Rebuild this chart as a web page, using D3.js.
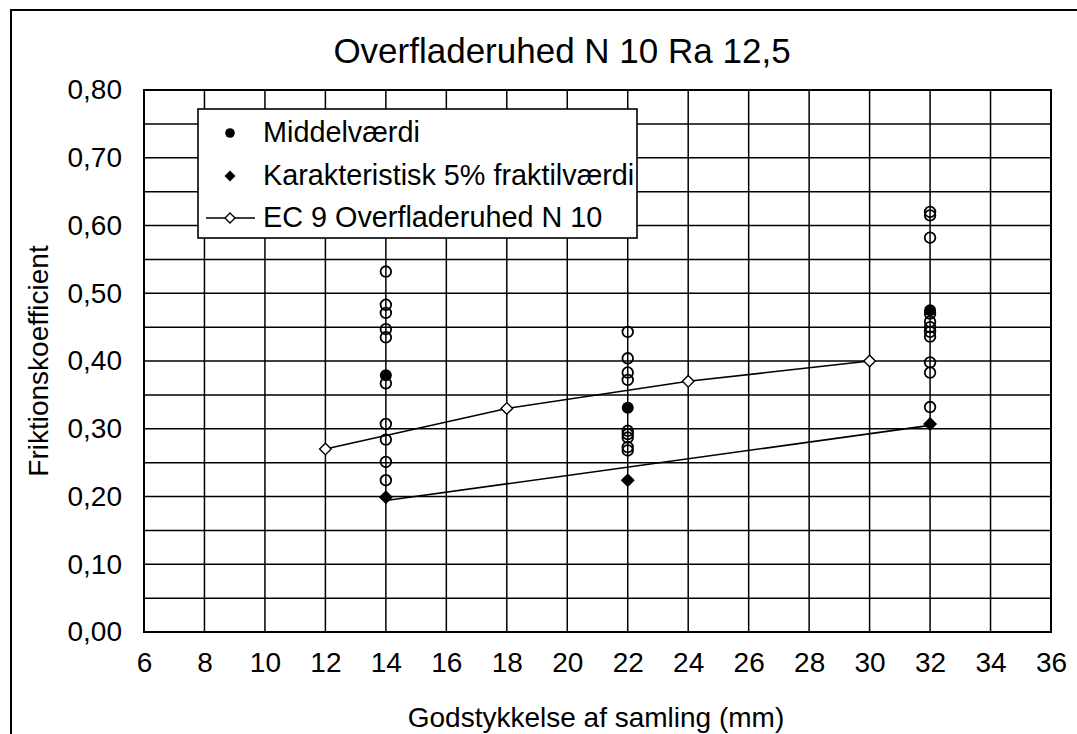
<!DOCTYPE html>
<html>
<head>
<meta charset="utf-8">
<script src="https://cdn.jsdelivr.net/npm/d3@7"></script>
<style>
  html, body { margin: 0; padding: 0; background: #fff; }
  svg { display: block; font-family: "Liberation Sans", Arial, sans-serif; }
</style>
</head>
<body>
<svg id="chart" width="1077" height="734"></svg>
<script>
// Wall thickness of the joint (mm) where the friction tests were made
const groups = [14, 22, 32];
// Individual measured friction coefficients per thickness
const measured14 = [0.532, 0.483, 0.471, 0.447, 0.435, 0.367, 0.307, 0.284, 0.251, 0.224];
const measured22 = [0.443, 0.404, 0.383, 0.372, 0.297, 0.292, 0.287, 0.273, 0.268];
const measured32 = [0.620, 0.615, 0.582, 0.470, 0.458, 0.450, 0.443, 0.436, 0.398, 0.383, 0.332];
// Mean values and characteristic 5% fractile values
const meanValues = [0.379, 0.331, 0.475];
const charValues = [0.199, 0.224, 0.307];
// EC 9 design values for surface roughness N 10
const ecThickness = [12, 18, 24, 30];
const ecValues = [0.27, 0.33, 0.37, 0.40];
// Line through the characteristic values
const lowerThickness = [14, 32];
const lowerValues = [0.194, 0.305];
// Axis ticks
const xTicks = [6, 8, 10, 12, 14, 16, 18, 20, 22, 24, 26, 28, 30, 32, 34, 36];
const yTicks = [0, 0.1, 0.2, 0.3, 0.4, 0.5, 0.6, 0.7, 0.8];
const yGrid = [0.05, 0.1, 0.15, 0.2, 0.25, 0.3, 0.35, 0.4, 0.45, 0.5, 0.55, 0.6, 0.65, 0.7, 0.75];

const svg = d3.select("#chart");
const x = d3.scaleLinear().domain([6, 36]).range([144, 1051]);
const y = d3.scaleLinear().domain([0, 0.8]).range([632, 90]);
const fmt = v => d3.format(".2f")(v).replace(".", ",");
const FONT = "Liberation Sans, Arial, sans-serif";

// Outer frame
svg.append("rect").attr("x", 11).attr("y", 10).attr("width", 1200).attr("height", 900)
  .attr("fill", "none").attr("stroke", "#000").attr("stroke-width", 2);

// Title
svg.append("text").attr("x", 562).attr("y", 63).attr("text-anchor", "middle")
  .attr("font-size", 35).text("Overfladeruhed N 10 Ra 12,5");

// Grid
const grid = svg.append("g").attr("stroke", "#000").attr("stroke-width", 1.5);
grid.selectAll("line.h").data(yGrid).join("line")
  .attr("x1", x(6)).attr("x2", x(36)).attr("y1", d => y(d)).attr("y2", d => y(d));
grid.selectAll("line.v").data(xTicks.slice(1, -1)).join("line")
  .attr("y1", y(0)).attr("y2", y(0.8)).attr("x1", d => x(d)).attr("x2", d => x(d));
svg.append("rect").attr("x", x(6)).attr("y", y(0.8)).attr("width", x(36) - x(6)).attr("height", y(0) - y(0.8))
  .attr("fill", "none").attr("stroke", "#000").attr("stroke-width", 2);

// Tick labels through d3 axes (tick lines hidden)
const yAxis = svg.append("g").attr("transform", `translate(${x(6)},0)`)
  .call(d3.axisLeft(y).tickValues(yTicks).tickFormat(fmt).tickSize(0).tickPadding(22));
const xAxis = svg.append("g").attr("transform", `translate(0,${y(0)})`)
  .call(d3.axisBottom(x).tickValues(xTicks).tickSize(0).tickPadding(20));
[yAxis, xAxis].forEach(a => {
  a.select(".domain").remove();
  a.selectAll("text").attr("font-size", 28).attr("font-family", FONT).attr("fill", "#000");
});

svg.append("text").attr("x", 596).attr("y", 727).attr("text-anchor", "middle")
  .attr("font-size", 28).text("Godstykkelse af samling (mm)");
svg.append("text").attr("transform", "translate(48,361) rotate(-90)").attr("text-anchor", "middle")
  .attr("font-size", 28).text("Friktionskoefficient");

// Lines
const line = d3.line().x(d => x(d[0])).y(d => y(d[1]));
const ecPts = ecThickness.map((t, i) => [t, ecValues[i]]);
const lowPts = lowerThickness.map((t, i) => [t, lowerValues[i]]);
svg.append("path").attr("d", line(ecPts)).attr("fill", "none").attr("stroke", "#000").attr("stroke-width", 1.6);
svg.append("path").attr("d", line(lowPts)).attr("fill", "none").attr("stroke", "#000").attr("stroke-width", 1.6);

// Measured points (open circles)
const pts = [];
[measured14, measured22, measured32].forEach((arr, i) => arr.forEach(v => pts.push([groups[i], v])));
svg.append("g").selectAll("circle").data(pts).join("circle")
  .attr("cx", d => x(d[0])).attr("cy", d => y(d[1])).attr("r", 5.3)
  .attr("fill", "none").attr("stroke", "#000").attr("stroke-width", 1.8);

// Mean values (filled circles)
svg.append("g").selectAll("circle").data(groups).join("circle")
  .attr("cx", d => x(d)).attr("cy", (d, i) => y(meanValues[i])).attr("r", 6).attr("fill", "#000");

// Characteristic values (filled diamonds)
const diamond = s => `M0,${-s}L${s},0L0,${s}L${-s},0Z`;
svg.append("g").selectAll("path").data(groups).join("path")
  .attr("transform", (d, i) => `translate(${x(d)},${y(charValues[i])})`)
  .attr("d", diamond(7)).attr("fill", "#000");

// EC 9 markers (open diamonds)
svg.append("g").selectAll("path").data(ecPts).join("path")
  .attr("transform", d => `translate(${x(d[0])},${y(d[1])})`)
  .attr("d", diamond(5.8)).attr("fill", "#fff").attr("stroke", "#000").attr("stroke-width", 1.4);

// Legend
const lg = svg.append("g");
lg.append("rect").attr("x", 198).attr("y", 109).attr("width", 439).attr("height", 129)
  .attr("fill", "#fff").attr("stroke", "#000").attr("stroke-width", 1.6);
const lx = 230, tx = 263;
lg.append("circle").attr("cx", lx).attr("cy", 133).attr("r", 4.8).attr("fill", "#000");
lg.append("path").attr("transform", `translate(${lx},176)`).attr("d", diamond(5.5)).attr("fill", "#000");
lg.append("line").attr("x1", 206).attr("x2", 255).attr("y1", 218).attr("y2", 218).attr("stroke", "#000").attr("stroke-width", 1.6);
lg.append("path").attr("transform", `translate(${lx},218)`).attr("d", diamond(5)).attr("fill", "#fff").attr("stroke", "#000").attr("stroke-width", 1.4);
const labels = ["Middelværdi", "Karakteristisk 5% fraktilværdi", "EC 9 Overfladeruhed N 10"];
lg.selectAll("text").data(labels).join("text")
  .attr("x", tx).attr("y", (d, i) => [142, 185, 227][i]).attr("font-size", 28.8).text(d => d);
</script>
</body>
</html>
